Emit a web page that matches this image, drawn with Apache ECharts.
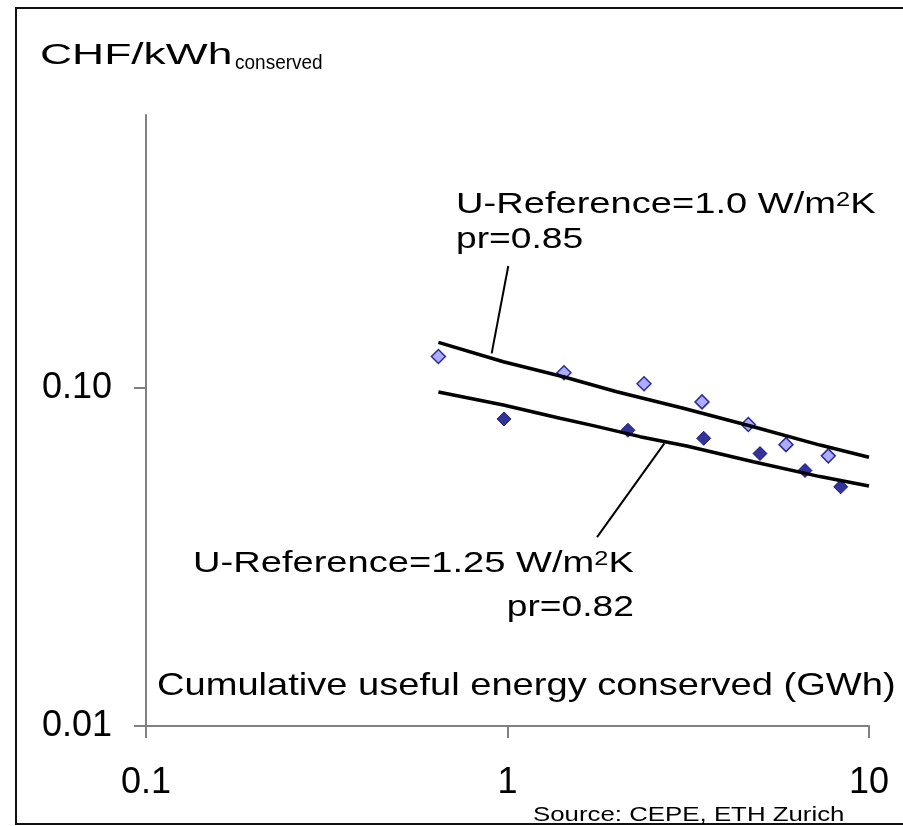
<!DOCTYPE html>
<html>
<head>
<meta charset="utf-8">
<style>
  html, body { margin: 0; padding: 0; background: #fff; }
  #chart { width: 903px; height: 826px; }
</style>
<script src="https://cdn.jsdelivr.net/npm/echarts@6.0.0/dist/echarts.min.js"></script>
</head>
<body>
<div id="chart"></div>
<script>
// measured points, U-Reference = 1.0 (light diamonds)
const hiX = [0.644, 1.433, 2.386, 3.452, 4.636, 5.893, 7.717];
const hiY = [0.124, 0.111, 0.103, 0.091, 0.078, 0.068, 0.063];
// measured points, U-Reference = 1.25 (dark diamonds)
const loX = [0.978, 2.154, 3.489, 4.994, 6.653, 8.35];
const loY = [0.081, 0.075, 0.071, 0.064, 0.057, 0.051];
// experience curves as drawn
const curveHiX = [0.644, 0.974, 1.427, 2.005, 3.065, 4.786, 7.318, 10];
const curveHiY = [0.1365, 0.1196, 0.108, 0.0975, 0.0871, 0.0768, 0.0678, 0.0624];
const curveLoX = [0.644, 0.974, 1.397, 1.727, 2.326, 3.131, 4.786, 7.318, 10];
const curveLoY = [0.0973, 0.0891, 0.0814, 0.0774, 0.0718, 0.0674, 0.0605, 0.0547, 0.0513];
// leader lines from the labels to the curves
const leaderHi = [[1.005, 0.2296], [0.904, 0.1266]];
const leaderLo = [[2.716, 0.0686], [1.769, 0.0362]];
// axis ticks
const xTicks = [0.1, 1, 10];
const xTickLabels = ['0.1', '1', '10'];
const yTicks = [0.01, 0.1];
const yTickLabels = ['0.01', '0.10'];

const FONT = '"Liberation Sans", Arial, Helvetica, sans-serif';

function zip(xs, ys) {
  return xs.map((x, i) => [x, ys[i]]);
}
function tickText(ticks, labels) {
  return function (v) {
    for (let i = 0; i < ticks.length; i++) {
      if (Math.abs(Math.log10(v) - Math.log10(ticks[i])) < 1e-6) return labels[i];
    }
    return '';
  };
}
// a text box, stretched horizontally like in the original slide
function txt(x, y, text, size, sx, align, rich) {
  return {
    type: 'text', x: x, y: y, scaleX: sx, z: 100,
    style: {
      text: text, fontSize: size, fontFamily: FONT, fill: '#000',
      align: align || 'left', verticalAlign: 'middle', rich: rich
    }
  };
}
const supStyle = { sup: { fontSize: 20, fontFamily: FONT, fill: '#000', verticalAlign: 'top' } };

let chart = echarts.init(document.getElementById('chart'));
chart.setOption({
  animation: false,
  backgroundColor: '#fff',
  grid: { left: 146, right: 34, top: 115, bottom: 100, containLabel: false, outerBoundsMode: 'none' },
  xAxis: {
    type: 'log', logBase: 10, min: 0.1, max: 10,
    axisLine: { show: true, onZero: false, lineStyle: { color: '#808080', width: 2 } },
    axisTick: { show: true, length: 12, lineStyle: { color: '#808080', width: 2 } },
    splitLine: { show: false },
    axisLabel: {
      fontSize: 36, fontFamily: FONT, color: '#000', margin: 39,
      formatter: tickText(xTicks, xTickLabels)
    }
  },
  yAxis: {
    type: 'log', logBase: 10, min: 0.01, max: 0.6425,
    axisLine: { show: true, onZero: false, lineStyle: { color: '#808080', width: 2 } },
    axisTick: { show: true, length: 12, customValues: yTicks, lineStyle: { color: '#808080', width: 2 } },
    splitLine: { show: false },
    axisLabel: {
      fontSize: 36, fontFamily: FONT, color: '#000', margin: 34,
      customValues: yTicks,
      formatter: tickText(yTicks, yTickLabels)
    }
  },
  series: [
    {
      name: 'U-Reference=1.0', type: 'scatter', data: zip(hiX, hiY),
      symbol: 'diamond', symbolSize: 14, z: 2,
      itemStyle: { color: '#9999ff', borderColor: '#000080', borderWidth: 1.5 }
    },
    {
      name: 'U-Reference=1.25', type: 'scatter', data: zip(loX, loY),
      symbol: 'diamond', symbolSize: 14, z: 2,
      itemStyle: { color: '#000080', borderColor: '#000080', borderWidth: 1 }
    },
    {
      name: 'curve 1.0', type: 'line', data: zip(curveHiX, curveHiY),
      showSymbol: false, symbol: 'none', z: 3,
      lineStyle: { color: '#000', width: 3.5 },
      markLine: {
        silent: true, symbol: 'none', label: { show: false },
        lineStyle: { color: '#000', width: 2, type: 'solid' },
        data: [
          [{ coord: leaderHi[0] }, { coord: leaderHi[1] }],
          [{ coord: leaderLo[0] }, { coord: leaderLo[1] }]
        ]
      }
    },
    {
      name: 'curve 1.25', type: 'line', data: zip(curveLoX, curveLoY),
      showSymbol: false, symbol: 'none', z: 3,
      lineStyle: { color: '#000', width: 3.5 }
    }
  ],
  graphic: [
    // frame
    {
      type: 'rect', z: 90, silent: true,
      shape: { x: 16, y: 8, width: 900, height: 816 },
      style: { fill: 'none', stroke: '#111', lineWidth: 2 }
    },
    txt(40, 56, 'CHF/kWh', 30, 1.48),
    txt(235, 63, 'conserved', 20, 0.95),
    txt(456, 205, 'U-Reference=1.0 W/m{sup|2}K', 30, 1.27, 'left', supStyle),
    txt(456, 240, 'pr=0.85', 30, 1.24),
    txt(193, 564, 'U-Reference=1.25 W/m{sup|2}K', 30, 1.27, 'left', supStyle),
    txt(634, 608, 'pr=0.82', 30, 1.24, 'right'),
    txt(157, 686, 'Cumulative useful energy conserved (GWh)', 32, 1.19),
    txt(533, 815, 'Source: CEPE, ETH Zurich', 21, 1.23)
  ]
});
</script>
</body>
</html>
